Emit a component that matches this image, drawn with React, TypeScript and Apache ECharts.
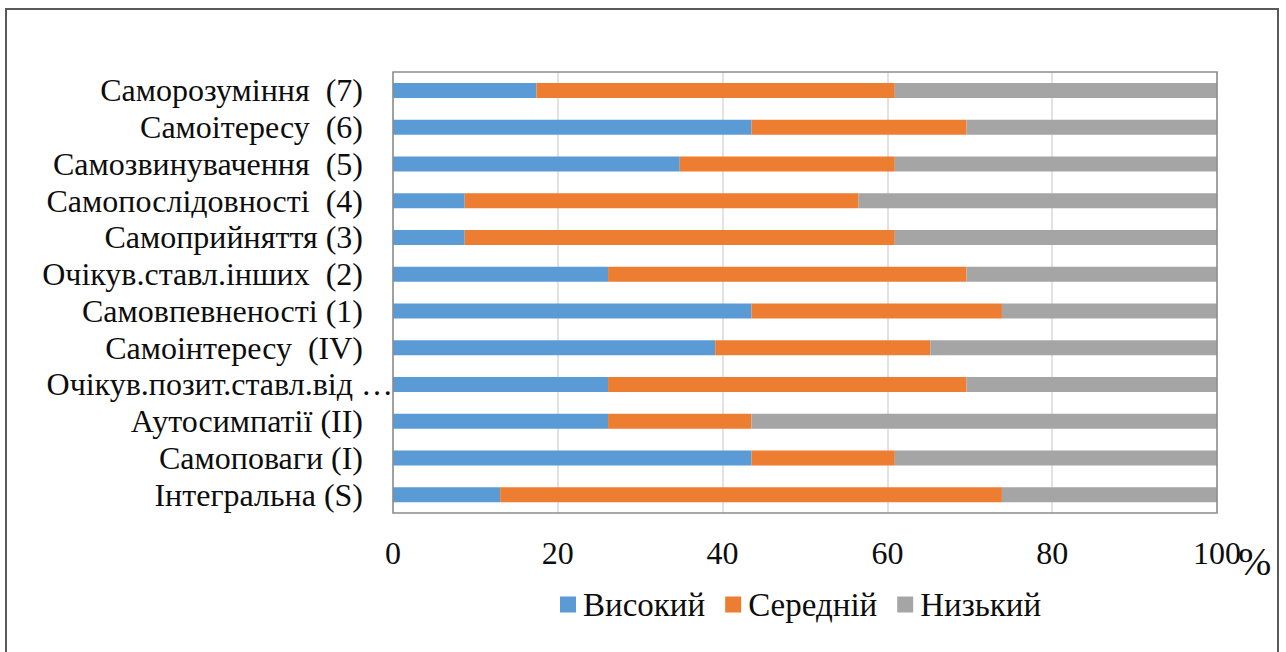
import React, { useEffect, useRef } from "react";
import * as echarts from "echarts";

// Categories listed bottom to top (as the y-axis draws them)
const categories = [
  "Інтегральна (S)",
  "Самоповаги (I)",
  "Аутосимпатії (II)",
  "Очікув.позит.ставл.від …",
  "Самоінтересу  (IV)",
  "Самовпевненості (1)",
  "Очікув.ставл.інших  (2)",
  "Самоприйняття (3)",
  "Самопослідовності  (4)",
  "Самозвинувачення  (5)",
  "Самоітересу  (6)",
  "Саморозуміння  (7)",
];

const seriesNames = ["Високий", "Середній", "Низький"];

// Share of respondents per level, %
const high = [13.0, 43.5, 26.1, 26.1, 39.1, 43.5, 26.1, 8.7, 8.7, 34.8, 43.5, 17.4];
const middle = [60.9, 17.4, 17.4, 43.5, 26.1, 30.4, 43.5, 52.2, 47.8, 26.1, 26.1, 43.5];
const low = [26.1, 39.1, 56.5, 30.4, 34.8, 26.1, 30.4, 39.1, 43.5, 39.1, 30.4, 39.1];

const xTicks = [0, 20, 40, 60, 80, 100];
const colors = ["#5B9BD5", "#ED7D31", "#A5A5A5"];

const FONT = "Liberation Serif";
const SIZE = 32;
const INK = "#0d0d0d";
// the truncated label runs past the others up to the plot edge
const LONG_LABEL = "Очікув.позит.ставл.від …";

export default function App() {
  const ref = useRef<HTMLDivElement>(null);

  useEffect(() => {
    if (!ref.current) return;
    const chart = echarts.init(ref.current, null, { renderer: "svg" });
    const values = [high, middle, low];
    chart.setOption({
      animation: false,
      backgroundColor: "#ffffff",
      textStyle: { fontFamily: FONT },
      grid: { left: 393, right: 69, top: 72, bottom: 139, containLabel: false },
      legend: {
        data: seriesNames,
        left: 555,
        top: 583,
        itemWidth: 16,
        itemHeight: 16,
        itemGap: 20,
        icon: "rect",
        textStyle: { fontFamily: FONT, fontSize: 33, color: INK, padding: [0, 0, 0, 2] },
      },
      xAxis: {
        type: "value",
        min: xTicks[0],
        max: xTicks[xTicks.length - 1],
        interval: 20,
        axisLine: { show: false },
        axisTick: { show: false },
        axisLabel: {
          margin: 24,
          fontFamily: FONT,
          fontSize: SIZE,
          color: INK,
        },
        splitLine: { show: true, lineStyle: { color: "#d9d9d9", width: 1.5 } },
      },
      yAxis: {
        type: "category",
        data: categories,
        axisLine: { show: false },
        axisTick: { show: false },
        axisLabel: {
          interval: 0,
          margin: 30,
          fontFamily: FONT,
          fontSize: SIZE,
          color: INK,
          formatter: (v: string) => (v === LONG_LABEL ? `{long|${v}}` : v),
          rich: {
            long: {
              fontFamily: FONT,
              fontSize: SIZE,
              color: INK,
              padding: [0, -30, 0, 0],
            },
          },
        },
      },
      series: seriesNames.map((name, i) => ({
        name,
        type: "bar",
        stack: "total",
        barWidth: 15,
        itemStyle: { color: colors[i] },
        data: values[i],
      })),
      graphic: [
        {
          type: "rect",
          shape: { x: 393, y: 72, width: 824, height: 441 },
          style: { fill: "none", stroke: "#8c8c8c", lineWidth: 1.5 },
          z: 10,
        },
        {
          type: "rect",
          shape: { x: 6, y: 9, width: 1272, height: 660 },
          style: { fill: "none", stroke: "#595959", lineWidth: 2 },
          z: 10,
        },
        {
          type: "text",
          x: 1238,
          y: 541,
          style: {
            text: "%",
            fontFamily: FONT,
            fontSize: 40,
            fill: INK,
          },
          z: 10,
        },
      ],
    });
    return () => chart.dispose();
  }, []);

  return (
    <div
      ref={ref}
      style={{ position: "absolute", left: 0, top: 0, width: 1286, height: 652 }}
    />
  );
}
